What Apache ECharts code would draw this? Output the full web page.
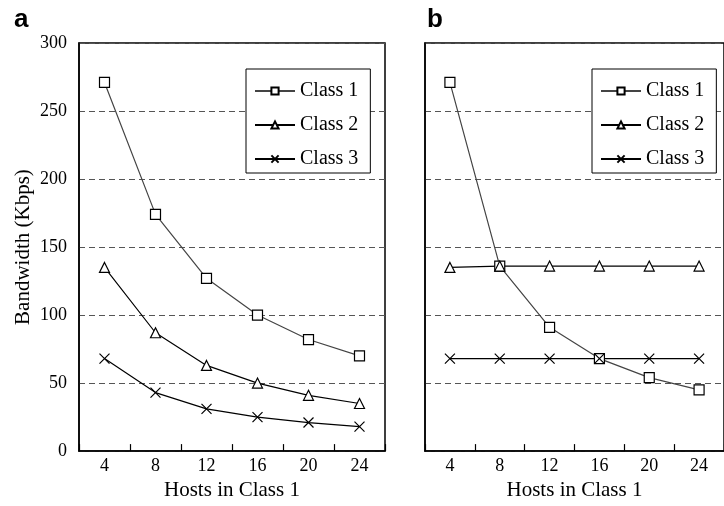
<!DOCTYPE html>
<html>
<head>
<meta charset="utf-8">
<script src="https://cdn.jsdelivr.net/npm/echarts@6/dist/echarts.min.js"></script>
<style>
  html, body { margin: 0; padding: 0; background: #fff; }
  #chart { width: 724px; height: 506px; }
</style>
</head>
<body>
<div id="chart"></div>
<script>
// hosts in class 1
var hosts = ['4', '8', '12', '16', '20', '24'];

// panel a
var aClass1 = [271, 174, 127, 100, 82, 70];
var aClass2 = [135, 87, 63, 50, 41, 35];
var aClass3 = [68, 43, 31, 25, 21, 18];

// panel b
var bClass1 = [271, 136, 91, 68, 54, 45];
var bClass2 = [135, 136, 136, 136, 136, 136];
var bClass3 = [68, 68, 68, 68, 68, 68];

var serif = 'Liberation Serif';
var crossPath = 'path://M0,0L10,10M10,0L0,10';

function mkSeries(name, data, idx, symbol, color) {
	return {
		name: name,
		type: 'line',
		xAxisIndex: idx,
		yAxisIndex: idx,
		data: data,
		symbol: symbol,
		symbolSize: 10,
		lineStyle: { color: color, width: 1.2 },
		itemStyle: { color: '#fff', borderColor: '#000', borderWidth: 1.2 },
		emphasis: { disabled: true },
		animation: false
	};
}

function mkX(idx) {
	return {
		type: 'category',
		gridIndex: idx,
		data: hosts,
		boundaryGap: true,
		name: 'Hosts in Class 1',
		nameLocation: 'middle',
		nameGap: 27,
		nameTextStyle: { fontFamily: serif, fontSize: 21, color: '#000' },
		axisLine: { show: true, lineStyle: { color: '#000', width: 1.5 } },
		axisTick: { show: true, inside: true, interval: 0, length: 7, lineStyle: { color: '#000', width: 1.2 } },
		axisLabel: { fontFamily: serif, fontSize: 18, color: '#000', margin: 6 },
		z: 5
	};
}

function mkY(idx) {
	return {
		type: 'value',
		gridIndex: idx,
		min: 0,
		max: 300,
		interval: 50,
		name: idx == 0 ? 'Bandwidth (Kbps)' : '',
		nameLocation: 'middle',
		nameGap: 45,
		nameTextStyle: { fontFamily: serif, fontSize: 21, color: '#000' },
		axisLine: { show: true, lineStyle: { color: '#000', width: 1.5 } },
		axisTick: { show: false },
		axisLabel: { show: idx == 0, fontFamily: serif, fontSize: 18, color: '#000', margin: 12 },
		splitLine: { lineStyle: { color: '#555', type: [6, 4], width: 1 } }
	};
}

function mkLegend(left) {
	return {
		data: ['Class 1', 'Class 2', 'Class 3'],
		orient: 'vertical',
		left: left,
		top: 69,
		itemWidth: 40,
		itemHeight: 9,
		itemGap: 14,
		padding: [12, 12, 4, 8],
		borderColor: '#000',
		borderWidth: 1,
		backgroundColor: '#fff',
		selectedMode: false,
		textStyle: { fontFamily: serif, fontSize: 20, color: '#000' }
	};
}

var chart = echarts.init(document.getElementById('chart'));
chart.setOption({
	animation: false,
	title: [
		{ text: 'a', left: 9, top: 2, textStyle: { fontFamily: 'Liberation Sans', fontSize: 26, fontWeight: 'bold', color: '#000' } },
		{ text: 'b', left: 422, top: 2, textStyle: { fontFamily: 'Liberation Sans', fontSize: 26, fontWeight: 'bold', color: '#000' } }
	],
	legend: [mkLegend(246), mkLegend(592)],
	grid: [
		{ left: 79, width: 306, top: 43, bottom: 51, show: true, borderColor: '#000', borderWidth: 1.5 },
		{ left: 425, width: 306, top: 43, bottom: 51, show: true, borderColor: '#000', borderWidth: 1.5 }
	],
	xAxis: [mkX(0), mkX(1)],
	yAxis: [mkY(0), mkY(1)],
	series: [
		mkSeries('Class 1', aClass1, 0, 'rect', '#444'),
		mkSeries('Class 2', aClass2, 0, 'triangle', '#000'),
		mkSeries('Class 3', aClass3, 0, crossPath, '#000'),
		mkSeries('Class 1', bClass1, 1, 'rect', '#444'),
		mkSeries('Class 2', bClass2, 1, 'triangle', '#000'),
		mkSeries('Class 3', bClass3, 1, crossPath, '#000')
	]
});
</script>
</body>
</html>
